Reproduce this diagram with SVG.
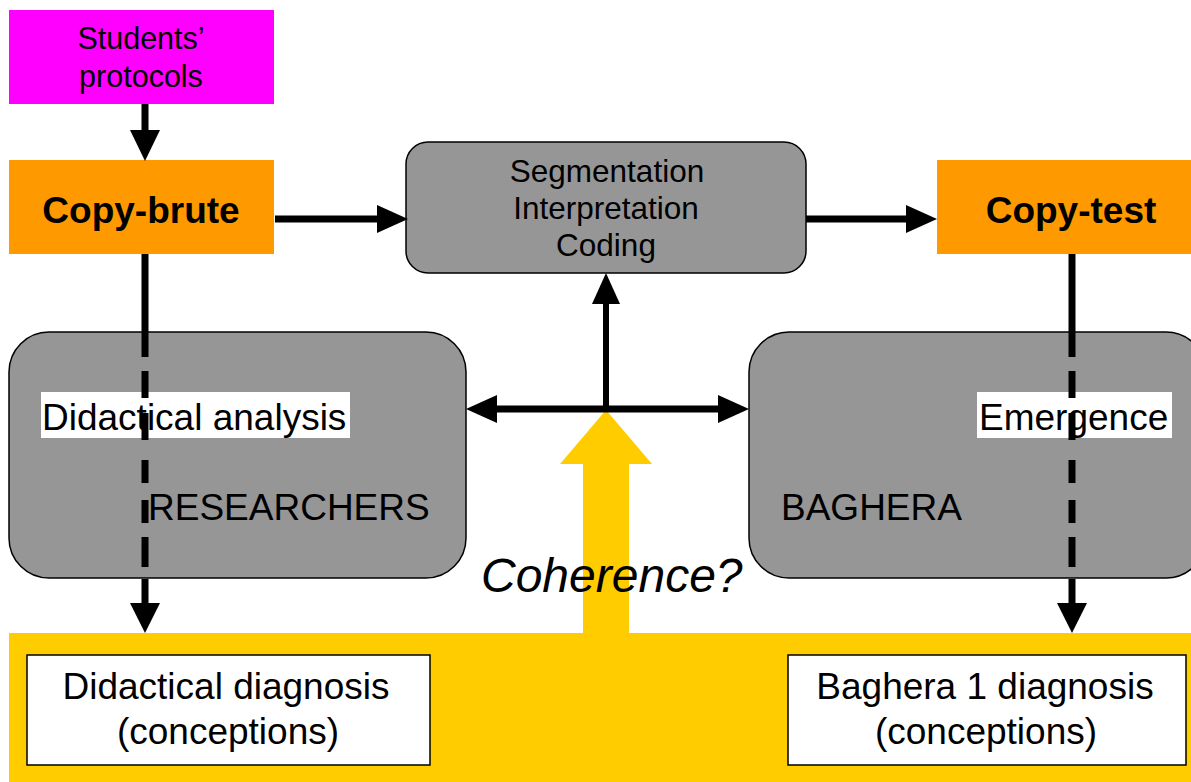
<svg xmlns="http://www.w3.org/2000/svg" width="1191" height="782" viewBox="0 0 1191 782">
<style>
text{font-family:"Liberation Sans",Arial,sans-serif;fill:#000}
.c{text-anchor:middle}
.b{font-weight:bold;font-size:37px}
.big{font-size:37px}
.seg{font-size:31.5px}
.gray{fill:#969696;stroke:#000;stroke-width:1.5}
.wbox{fill:#fff;stroke:#000;stroke-width:1.5}
.ln{stroke:#000;stroke-width:7;fill:none}
.ah{fill:#000}
</style>
<rect width="1191" height="782" fill="#fff"/>
<g id="coherence-band">
<rect x="9" y="633" width="1182" height="149" fill="#FFCC00"/>
<polygon points="583,633 583,464 560,464 606,410 652,464 629,464 629,633" fill="#FFCC00"/>
</g>
<g id="researchers">
<rect class="gray" x="9" y="332" width="457" height="246" rx="40"/>
<rect x="41" y="392" width="309" height="46" fill="#fff"/>
<text class="big" x="42" y="430">Didactical analysis</text>
<text class="big" x="148" y="520">RESEARCHERS</text>
</g>
<g id="baghera">
<rect class="gray" x="749" y="332" width="457" height="246" rx="40"/>
<rect x="977" y="392" width="195" height="46" fill="#fff"/>
<text class="big" x="979" y="430">Emergence</text>
<text class="big" x="781" y="520">BAGHERA</text>
</g>
<g id="students-protocols">
<rect x="9" y="10" width="265" height="94" fill="#FF00FF"/>
<text class="c" x="141" y="49" font-size="30.5">Students’</text>
<text class="c" x="141" y="87" font-size="30.5">protocols</text>
</g>
<g id="copy-brute">
<rect x="9" y="160" width="265" height="94" fill="#FF9900"/>
<text class="c b" x="141" y="223">Copy-brute</text>
</g>
<g id="segmentation">
<rect class="gray" x="406" y="142" width="400" height="131" rx="22"/>
<text class="c seg" x="607" y="182">Segmentation</text>
<text class="c seg" x="606" y="219">Interpretation</text>
<text class="c seg" x="606" y="256">Coding</text>
</g>
<g id="copy-test">
<rect x="937" y="160" width="254" height="94" fill="#FF9900"/>
<text class="c b" x="1071" y="223">Copy-test</text>
</g>
<g id="didactical-diagnosis">
<rect class="wbox" x="27" y="655" width="403" height="110"/>
<text class="c big" x="226" y="699">Didactical diagnosis</text>
<text class="c big" x="228" y="744">(conceptions)</text>
</g>
<g id="baghera-diagnosis">
<rect class="wbox" x="788" y="655" width="398" height="110"/>
<text class="c big" x="985" y="699">Baghera 1 diagnosis</text>
<text class="c big" x="986" y="744">(conceptions)</text>
</g>
<g id="connectors">
<line class="ln" x1="145" y1="104" x2="145" y2="132"/>
<polygon class="ah" points="130,130 160,130 145,161"/>
<line class="ln" x1="275" y1="219" x2="380" y2="219"/>
<polygon class="ah" points="377,205 377,233 408,219"/>
<line class="ln" x1="806" y1="219" x2="910" y2="219"/>
<polygon class="ah" points="906,205 906,233 937,219"/>
<line class="ln" x1="495" y1="409" x2="722" y2="409"/>
<polygon class="ah" points="497,395 497,423 466,409"/>
<polygon class="ah" points="718,395 718,423 749,409"/>
<line x1="606" y1="409" x2="606" y2="300" stroke="#000" stroke-width="6"/>
<polygon class="ah" points="592,304 620,304 606,273"/>
<path class="ln" d="M145 254V357M145 371V398M145 413V440M145 460V483M145 500V523M145 537V567M145 579V606"/>
<polygon class="ah" points="130,603 160,603 145,633"/>
<path class="ln" d="M1072 254V357M1072 371V398M1072 413V440M1072 460V483M1072 500V523M1072 537V567M1072 579V606"/>
<polygon class="ah" points="1057,603 1087,603 1072,633"/>
</g>
<text x="481" y="592" font-size="48" font-style="italic">Coherence?</text>
</svg>
